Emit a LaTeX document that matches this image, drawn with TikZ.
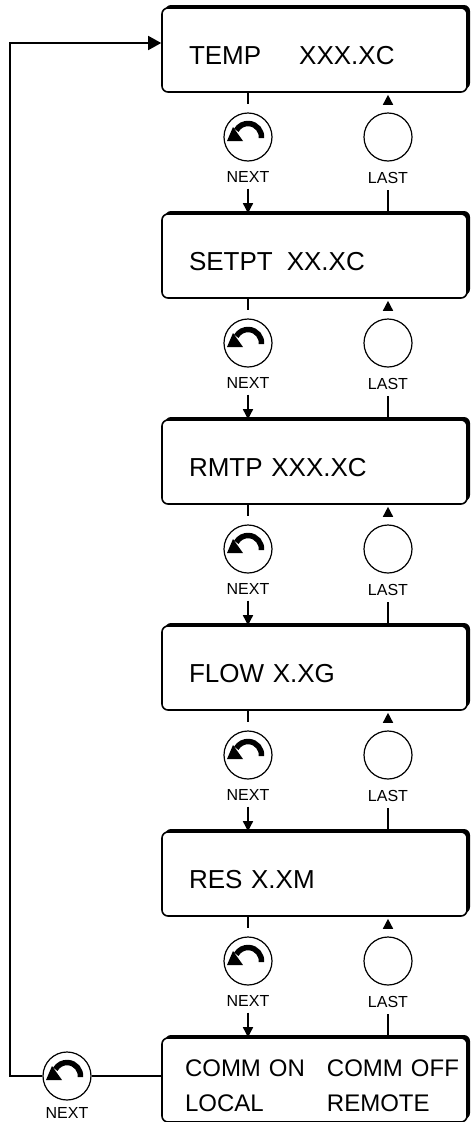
\documentclass[tikz,border=0pt]{standalone}
\usepackage{fontspec}
\setmainfont{Liberation Sans}
\usetikzlibrary{arrows.meta,shadows}

\tikzset{
  screen/.style={draw, line width=1.6pt, rounded corners=6pt, fill=white,
    general shadow={fill=black, shadow xshift=3pt, shadow yshift=3pt},
    minimum height=84pt, text width=251pt, inner xsep=27pt, inner ysep=4pt,
    align=left, font=\fontsize{26}{30}\selectfont, text height=28pt, text depth=0pt},
  button/.style={circle, draw, line width=1.2pt, minimum size=48pt, inner sep=0pt},
  nextbutton/.style={button, path picture={
      \begin{scope}[shift={(path picture bounding box.center)}]
        \draw[line width=5.5pt] (-5:13.5pt) arc[start angle=-5, end angle=150, radius=13.5pt];
        \fill (-21pt,-4pt) -- (-5pt,-4pt) -- (-15pt,10pt) -- cycle;
      \end{scope}}},
  keylabel/.style={font=\fontsize{16}{18}\selectfont, inner sep=1pt},
  wire/.style={line width=1.5pt},
  nexttip/.style={-{Triangle[length=10pt,width=10pt]}, shorten <=5pt},
  lasttip/.style={-{Triangle[length=10pt,width=10pt]}, shorten <=8pt, shorten >=2pt}
}

\begin{document}
\begin{tikzpicture}[x=1pt, y=-1pt]
  \useasboundingbox (0,0) rectangle (471,1122);

  % display screens
  \node[screen] (temp)  at (314.5,50)  {TEMP\hspace{38pt}XXX.XC};
  \node[screen] (setpt) at (314.5,256) {SETPT\hspace{14pt}XX.XC};
  \node[screen] (rmtp)  at (314.5,462) {RMTP XXX.XC};
  \node[screen] (flow)  at (314.5,668) {FLOW X.XG};
  \node[screen] (res)   at (314.5,874) {RES X.XM};
  \node[screen, inner xsep=23pt, text width=259pt, text height=33pt, text depth=41pt,
    font=\fontsize{24}{35}\selectfont] (comm) at (314.5,1080)
    {\begin{tabular}[t]{@{}p{142pt}@{}l@{}}COMM ON & COMM OFF\\ LOCAL & REMOTE\end{tabular}};

  % NEXT / LAST keys between the screens
  \foreach \from/\to [count=\k] in {temp/setpt, setpt/rmtp, rmtp/flow, flow/res, res/comm} {
    \pgfmathsetmacro\yc{50+206*(\k-1)}
    \node[nextbutton] (nx\k) at (248,\yc+87) {};
    \node[keylabel] (nxl\k) at (248,\yc+127) {NEXT};
    \node[button] (ls\k) at (388,\yc+87) {};
    \node[keylabel] (lsl\k) at (388,\yc+128) {LAST};
    \draw[wire] (\from.south -| nx\k) -- ++(0,11);
    \draw[wire, nexttip] (nxl\k) -- (\to.north -| nx\k);
    \draw[wire, shorten >=5pt] (\to.north -| ls\k) -- (lsl\k);
    \draw[wire, lasttip] (ls\k) -- (\from.south -| ls\k);
  }

  % back to the top
  \node[nextbutton] (nxb) at (67,1076) {};
  \node[keylabel] (nxbl) at (67,1113) {NEXT};
  \coordinate (back) at (10,1076);
  \draw[wire] (nxb) -- (nxb -| comm.west);
  \draw[wire, -{Triangle[length=13pt,width=14pt]}] (nxb) -- (back) |- ([yshift=7pt]temp.west);
\end{tikzpicture}
\end{document}
